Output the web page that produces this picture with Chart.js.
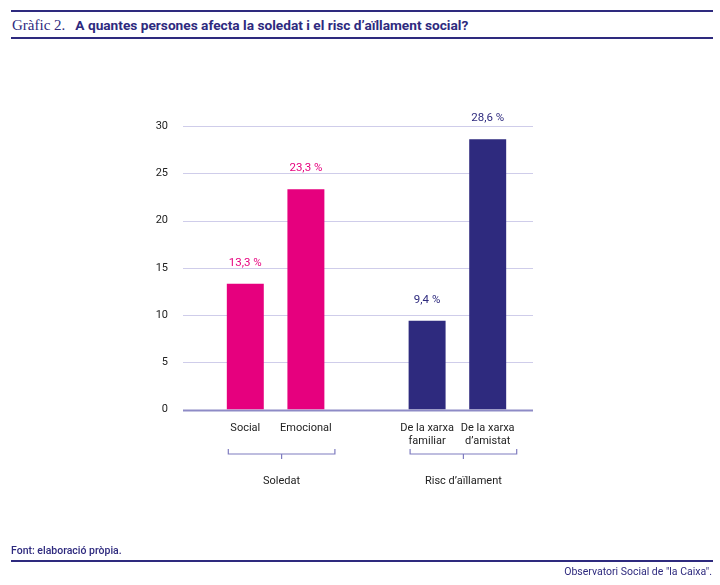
<!DOCTYPE html>
<html>
<head>
<meta charset="utf-8">
<script src="https://cdn.jsdelivr.net/npm/chart.js@4/dist/chart.umd.min.js"></script>
<style>
  body { margin: 0; background: #fff; }
  #wrap { position: relative; width: 720px; height: 585px; }
  #chart { position: absolute; left: 0; top: 0; }
  .rule { position: absolute; left: 11px; width: 702px; height: 2px; background: #2e2a7e; }
  .head { position: absolute; left: 12px; top: 16px; color: #2e2a7e; white-space: nowrap; }
  .head .num { font-family: "Liberation Serif", "DejaVu Serif", serif; font-size: 15px; }
  .head .txt { font-family: Roboto, "Noto Sans", sans-serif; font-weight: bold; font-size: 13.7px; margin-left: 10px; }
  .foot { position: absolute; font-family: Roboto, "Noto Sans", sans-serif; font-size: 10.5px; color: #2e2a7e; white-space: nowrap; }
</style>
</head>
<body>
<div id="wrap">
  <div class="rule" style="top:10px"></div>
  <div class="head"><span class="num">Gràfic 2.</span><span class="txt">A quantes persones afecta la soledat i el risc d’aïllament social?</span></div>
  <div class="rule" style="top:37px"></div>
  <canvas id="chart" width="720" height="585"></canvas>
  <div class="foot" style="left:11px; top:544px; font-weight:500">Font: elaboració pròpia.</div>
  <div class="rule" style="top:560px"></div>
  <div class="foot" style="right:8px; top:565px">Observatori Social de "la Caixa".</div>
</div>
<script>
// Dades del gràfic
const categories = ["Social", "Emocional", "", ["De la xarxa", "familiar"], ["De la xarxa", "d’amistat"]];
const values = [13.3, 23.3, null, 9.4, 28.6];
const valueLabels = ["13,3 %", "23,3 %", "", "9,4 %", "28,6 %"];
const groups = ["Soledat", "Risc d’aïllament"];
const groupRanges = [[0, 1], [3, 4]];
const yTicks = [0, 5, 10, 15, 20, 25, 30];

const PINK = "#e6007e";
const NAVY = "#2e2a7e";
const barColors = [PINK, PINK, PINK, NAVY, NAVY];

// Línies de la graella (més llargues que l'àrea de les barres)
const gridPlugin = {
  id: "gridLines",
  beforeDatasetsDraw(chart) {
    const { ctx, chartArea, scales } = chart;
    const x0 = chartArea.left - 32;
    const x1 = chartArea.right + 15;
    ctx.save();
    yTicks.forEach((t) => {
      const y = Math.round(scales.y.getPixelForValue(t)) + 0.5;
      ctx.beginPath();
      if (t === 0) {
        ctx.strokeStyle = "#8e8bc6";
        ctx.lineWidth = 2;
      } else {
        ctx.strokeStyle = "#cfcdea";
        ctx.lineWidth = 1;
      }
      ctx.moveTo(x0, y);
      ctx.lineTo(x1, y);
      ctx.stroke();
    });
    ctx.restore();
  },
};

// Etiquetes de valor i claus dels grups
const labelsPlugin = {
  id: "valueLabels",
  afterDatasetsDraw(chart) {
    const { ctx, scales } = chart;
    const meta = chart.getDatasetMeta(0);
    ctx.save();
    ctx.font = "11.5px Roboto, 'Noto Sans', sans-serif";
    ctx.textAlign = "center";
    ctx.textBaseline = "middle";
    meta.data.forEach((bar, i) => {
      if (values[i] === null) return;
      ctx.fillStyle = barColors[i];
      ctx.fillText(valueLabels[i], bar.x, bar.y - 21);
    });

    const yTop = 449;
    const yLine = 454;
    const yTick = 459;
    ctx.strokeStyle = "#7f7cbf";
    ctx.lineWidth = 1.2;
    ctx.font = "11px Roboto, 'Noto Sans', sans-serif";
    groupRanges.forEach((r, g) => {
      const left = scales.x.getPixelForValue(r[0]) - 17;
      const right = scales.x.getPixelForValue(r[1]) + 29;
      const mid = (left + right) / 2;
      ctx.beginPath();
      ctx.moveTo(left, yTop);
      ctx.lineTo(left, yLine);
      ctx.lineTo(right, yLine);
      ctx.lineTo(right, yTop);
      ctx.moveTo(mid, yLine);
      ctx.lineTo(mid, yTick);
      ctx.stroke();
      ctx.fillStyle = "#222";
      ctx.fillText(groups[g], mid, 481);
    });
    ctx.restore();
  },
};

new Chart(document.getElementById("chart"), {
  type: "bar",
  data: {
    labels: categories,
    datasets: [
      {
        data: values,
        backgroundColor: barColors,
        borderWidth: 0,
        barPercentage: 0.61,
        categoryPercentage: 1,
      },
    ],
  },
  options: {
    responsive: false,
    animation: false,
    devicePixelRatio: 1,
    layout: { padding: { left: 0, right: 202, top: 126, bottom: 125 } },
    plugins: { legend: { display: false }, tooltip: { enabled: false } },
    scales: {
      x: {
        grid: { display: false, drawTicks: false },
        border: { display: false },
        ticks: {
          padding: 12,
          color: "#222",
          font: { family: "Roboto, 'Noto Sans', sans-serif", size: 11 },
          maxRotation: 0,
          autoSkip: false,
        },
      },
      y: {
        min: 0,
        max: 30,
        afterFit(scale) {
          scale.width = 215;
        },
        grid: { display: false, drawTicks: false },
        border: { display: false },
        ticks: {
          stepSize: 5,
          padding: 47,
          color: "#222",
          font: { family: "Roboto, 'Noto Sans', sans-serif", size: 11 },
        },
      },
    },
  },
  plugins: [gridPlugin, labelsPlugin],
});
</script>
</body>
</html>
